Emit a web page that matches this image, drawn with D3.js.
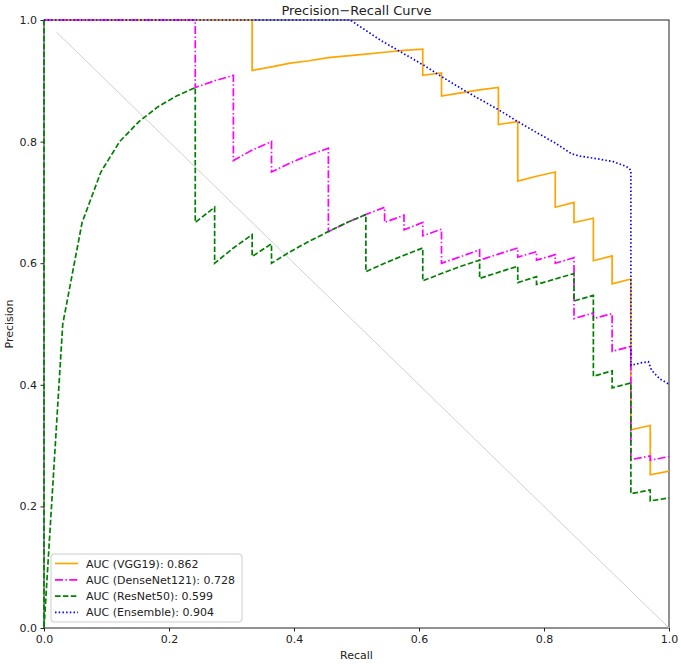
<!DOCTYPE html>
<html>
<head>
<meta charset="utf-8">
<script src="https://cdn.jsdelivr.net/npm/d3@7"></script>
<style>
  body { margin: 0; background: #fff; }
  text { font-family: "DejaVu Sans", sans-serif; fill: #222; }
</style>
</head>
<body>
<div id="chart"></div>
<script>
// values
var xTicks = [0, 0.2, 0.4, 0.6, 0.8, 1.0];
var yTicks = [0, 0.2, 0.4, 0.6, 0.8, 1.0];

var vggRecall = [0, 0.333, 0.333, 0.364, 0.394, 0.424, 0.455, 0.485, 0.515, 0.545, 0.576, 0.606, 0.606, 0.636, 0.636,
  0.667, 0.697, 0.727, 0.727, 0.758, 0.758, 0.788, 0.818, 0.818, 0.848, 0.848, 0.879, 0.879, 0.909, 0.909, 0.939, 0.939,
  0.970, 0.970, 1.0];
var vggPrecision = [1, 1, 0.917, 0.923, 0.929, 0.933, 0.938, 0.941, 0.944, 0.947, 0.950, 0.952, 0.909, 0.913, 0.875,
  0.880, 0.885, 0.889, 0.828, 0.833, 0.735, 0.743, 0.750, 0.692, 0.700, 0.667, 0.674, 0.604, 0.612, 0.566, 0.574, 0.326,
  0.333, 0.252, 0.258];

var denseRecall = [0, 0.242, 0.242, 0.273, 0.303, 0.303, 0.333, 0.364, 0.364, 0.394, 0.424, 0.455, 0.455, 0.485, 0.515,
  0.545, 0.545, 0.576, 0.576, 0.606, 0.606, 0.636, 0.636, 0.667, 0.697, 0.697, 0.727, 0.758, 0.758, 0.788, 0.788, 0.818,
  0.818, 0.848, 0.848, 0.879, 0.879, 0.909, 0.909, 0.939, 0.939, 0.970, 0.970, 1.0];
var densePrecision = [1, 1, 0.889, 0.900, 0.909, 0.769, 0.786, 0.800, 0.750, 0.765, 0.778, 0.789, 0.652, 0.667, 0.680,
  0.692, 0.667, 0.679, 0.655, 0.667, 0.645, 0.656, 0.600, 0.611, 0.622, 0.605, 0.615, 0.625, 0.610, 0.619, 0.605, 0.614,
  0.600, 0.609, 0.509, 0.518, 0.509, 0.517, 0.455, 0.463, 0.277, 0.283, 0.276, 0.282];

var resRecall = [0, 0, 0.030, 0.061, 0.091, 0.121, 0.152, 0.182, 0.212, 0.242, 0.242, 0.273, 0.273, 0.303, 0.333, 0.333,
  0.364, 0.364, 0.394, 0.424, 0.455, 0.485, 0.515, 0.515, 0.545, 0.576, 0.606, 0.606, 0.636, 0.667, 0.697, 0.697, 0.727,
  0.758, 0.758, 0.788, 0.788, 0.818, 0.848, 0.848, 0.879, 0.879, 0.909, 0.909, 0.939, 0.939, 0.970, 0.970, 1.0];
var resPrecision = [1, 0, 0.500, 0.667, 0.750, 0.800, 0.833, 0.857, 0.875, 0.889, 0.667, 0.692, 0.600, 0.625, 0.647, 0.611,
  0.632, 0.600, 0.619, 0.636, 0.652, 0.667, 0.680, 0.586, 0.600, 0.613, 0.625, 0.571, 0.583, 0.595, 0.605, 0.575, 0.585,
  0.595, 0.568, 0.578, 0.565, 0.574, 0.583, 0.538, 0.547, 0.414, 0.423, 0.395, 0.403, 0.221, 0.227, 0.209, 0.214];

var ensRecall = [0, 0.490, 0.538, 0.570, 0.607, 0.636, 0.676, 0.728, 0.758, 0.788, 0.819, 0.844, 0.858, 0.884, 0.911,
  0.932, 0.939, 0.939, 0.955, 0.967, 0.972, 0.985, 1.0];
var ensPrecision = [1, 1, 0.967, 0.948, 0.926, 0.907, 0.882, 0.852, 0.833, 0.815, 0.797, 0.780, 0.776, 0.772, 0.767,
  0.759, 0.753, 0.432, 0.436, 0.438, 0.424, 0.410, 0.401];

var chanceRecall = [0.02, 1.0];
var chancePrecision = [0.98, 0.0];

var seriesNames = ['AUC (VGG19): 0.862', 'AUC (DenseNet121): 0.728', 'AUC (ResNet50): 0.599', 'AUC (Ensemble): 0.904'];
var seriesColors = ['#ffa500', '#ff00ff', '#008000', '#0000ff'];
var seriesDash = [null, '8,2.4,1.5,2.4', '5.5,2.4', '1.5,2.2'];

var width = 681, height = 664;
var margin = {top: 20, right: 12, bottom: 36, left: 44};

var svg = d3.select('#chart').append('svg')
  .attr('width', width)
  .attr('height', height);

var x = d3.scaleLinear().domain([0, 1]).range([margin.left, width - margin.right]);
var y = d3.scaleLinear().domain([0, 1]).range([height - margin.bottom, margin.top]);

// axes
var xAxis = svg.append('g')
  .attr('transform', 'translate(0,' + (height - margin.bottom) + ')')
  .call(d3.axisBottom(x).tickValues(xTicks).tickFormat(d3.format('.1f')).tickSizeOuter(0).tickSize(3.5).tickPadding(3.5));
var yAxis = svg.append('g')
  .attr('transform', 'translate(' + margin.left + ',0)')
  .call(d3.axisLeft(y).tickValues(yTicks).tickFormat(d3.format('.1f')).tickSizeOuter(0).tickSize(3.5).tickPadding(3.5));
[xAxis, yAxis].forEach(function(a) {
  a.select('.domain').remove();
  a.selectAll('line').attr('stroke', '#222');
  a.selectAll('text').attr('font-size', '11px').attr('font-family', '"DejaVu Sans", sans-serif').attr('fill', '#222');
});

// frame
svg.append('rect')
  .attr('x', x(0)).attr('y', y(1))
  .attr('width', x(1) - x(0)).attr('height', y(0) - y(1))
  .attr('fill', 'none').attr('stroke', '#222').attr('stroke-width', 1);

var line = d3.line()
  .x(function(d) { return x(d[0]); })
  .y(function(d) { return y(d[1]); });

// chance diagonal
svg.append('path')
  .datum(d3.zip(chanceRecall, chancePrecision))
  .attr('d', line)
  .attr('fill', 'none')
  .attr('stroke', '#d0d0d0')
  .attr('stroke-width', 1);

var curves = [
  d3.zip(vggRecall, vggPrecision),
  d3.zip(denseRecall, densePrecision),
  d3.zip(resRecall, resPrecision),
  d3.zip(ensRecall, ensPrecision)
];

curves.forEach(function(c, i) {
  svg.append('path')
    .datum(c)
    .attr('d', line)
    .attr('fill', 'none')
    .attr('stroke', seriesColors[i])
    .attr('stroke-width', 1.7)
    .attr('stroke-dasharray', seriesDash[i]);
});

// title and labels
svg.append('text')
  .attr('x', (x(0) + x(1)) / 2).attr('y', 15)
  .attr('text-anchor', 'middle')
  .attr('font-size', '13px')
  .text('Precision\u2212Recall Curve');
svg.append('text')
  .attr('x', (x(0) + x(1)) / 2).attr('y', 659)
  .attr('text-anchor', 'middle')
  .attr('font-size', '11px')
  .text('Recall');
svg.append('text')
  .attr('transform', 'translate(13,' + ((y(0) + y(1)) / 2) + ') rotate(-90)')
  .attr('text-anchor', 'middle')
  .attr('font-size', '11px')
  .text('Precision');

// legend
var legend = svg.append('g').attr('transform', 'translate(51,554)');
legend.append('rect')
  .attr('width', 191).attr('height', 68)
  .attr('rx', 3)
  .attr('fill', '#fff').attr('fill-opacity', 0.8)
  .attr('stroke', '#cccccc');
seriesNames.forEach(function(name, i) {
  var row = legend.append('g').attr('transform', 'translate(0,' + (9.5 + i * 16.3) + ')');
  row.append('line')
    .attr('x1', 4).attr('x2', 27)
    .attr('stroke', seriesColors[i])
    .attr('stroke-width', 1.7)
    .attr('stroke-dasharray', seriesDash[i]);
  row.append('text')
    .attr('x', 35).attr('y', 4)
    .attr('font-size', '11px')
    .text(name);
});
</script>
</body>
</html>
